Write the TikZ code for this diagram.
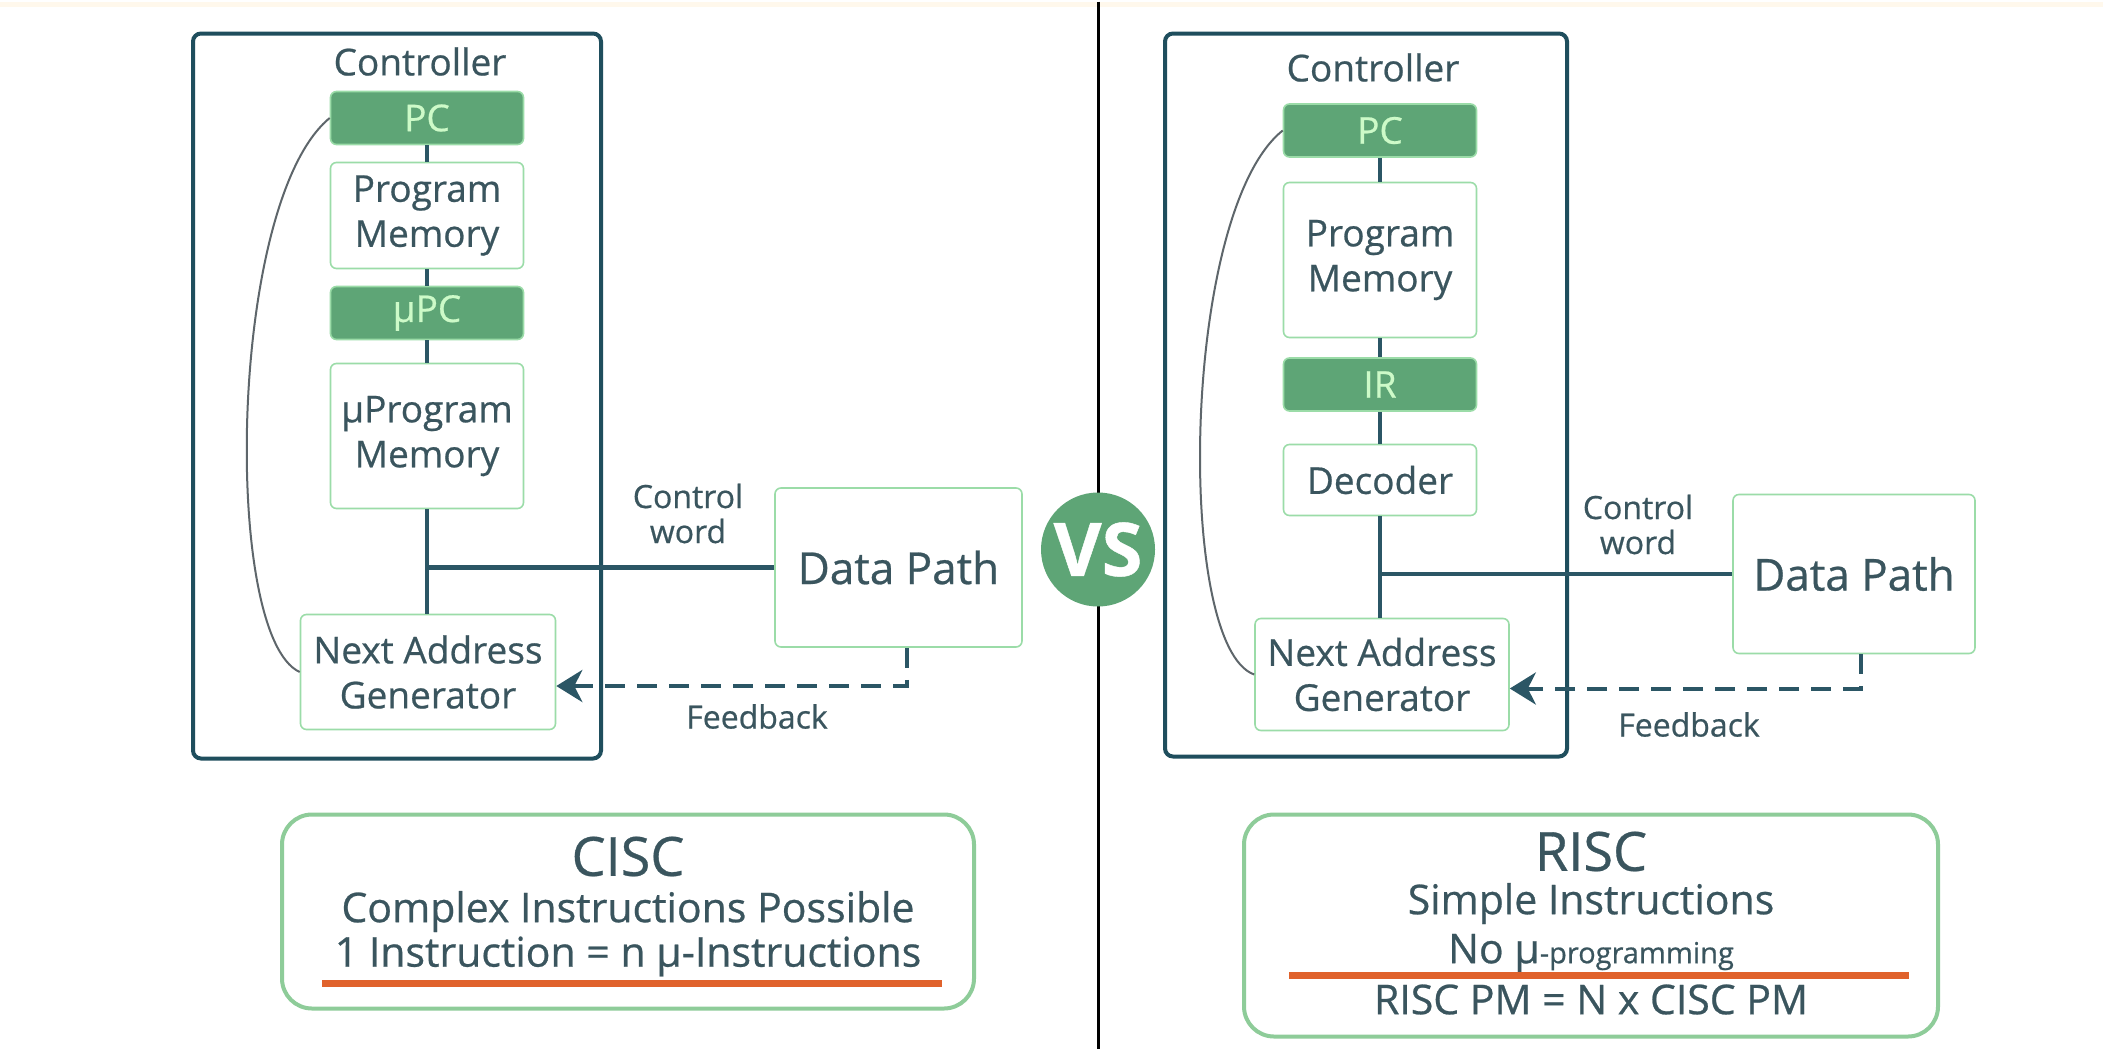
\documentclass[tikz,border=0pt]{standalone}
\usepackage{fontspec}
\setmainfont{Open Sans}[FakeBold=0.6]
\usetikzlibrary{arrows.meta}

\definecolor{ink}{HTML}{3A555E}
\definecolor{wirecol}{HTML}{2B5665}
\definecolor{framecol}{HTML}{1F4E5D}
\definecolor{regfill}{HTML}{5EA576}
\definecolor{regtext}{HTML}{CDFAC8}
\definecolor{lightedge}{HTML}{9BDCA8}
\definecolor{noteedge}{HTML}{8ECC99}
\definecolor{loopcol}{HTML}{5E666B}
\definecolor{hilite}{HTML}{E0622C}
\definecolor{cream}{HTML}{FFF8EC}

\newcommand{\fBlock}{\fontsize{18.5}{22.5}\selectfont}
\newcommand{\fData}{\fontsize{22}{26}\selectfont}
\newcommand{\fNote}{\fontsize{16}{17.5}\selectfont}
\newcommand{\fHead}{\fontsize{27}{30}\selectfont}
\newcommand{\fLine}{\fontsize{20.5}{24}\selectfont}
\newcommand{\fSmall}{\fontsize{14.5}{17}\selectfont}
\newcommand{\fVs}{\fontsize{37}{40}\selectfont\bfseries}

\begin{document}
\begin{tikzpicture}
	[x=0.5pt,y=-0.5pt,
	every node/.style={font=\fBlock,text=ink},
	reg/.style={rectangle,rounded corners=3pt,fill=regfill,draw=lightedge,line width=0.8pt,text=regtext,minimum width=96.5pt,minimum height=26.5pt},
	mem/.style={rectangle,rounded corners=3pt,fill=white,draw=lightedge,line width=0.8pt,align=center,minimum width=96.5pt},
	ctrl/.style={rectangle,rounded corners=4pt,draw=framecol,line width=2pt},
	note/.style={rectangle,rounded corners=15pt,fill=white,draw=noteedge,line width=2pt},
	wire/.style={draw=wirecol,line width=2.4pt},
	feedback/.style={draw=wirecol,line width=2pt,dash pattern=on 10pt off 6pt,-{Stealth[length=13pt,width=16pt,inset=4pt]}},
	backpath/.style={draw=loopcol,line width=1pt},
	underline/.style={draw=hilite,line width=3.5pt}]

	\fill[white] (0,0) rectangle (2103,1047);
	\fill[cream] (0,0) rectangle (2103,5);
	\draw[line width=1.5pt] (1098,0) -- (1098,1047);

	% CISC side
	\node[ctrl,minimum width=204pt,minimum height=362.5pt] (ctrlL) at (397,394.5) {};
	\node (tagL) at (420,60) {Controller};
	\node[reg] (pcL) at (427,116.5) {PC};
	\node[mem,minimum height=53pt] (pmL) at (427,214) {Program\\Memory};
	\node[reg] (upcL) at (427,311.5) {μPC};
	\node[mem,minimum height=72.5pt] (upmL) at (427,434.5) {μProgram\\Memory};
	\node[mem,minimum width=127.5pt,minimum height=57.5pt] (nagL) at (428,670.5) {Next Address\\Generator};
	\node[mem,minimum width=123.5pt,minimum height=79.5pt,font=\fData] (dpL) at (898.5,566) {Data Path};

	\foreach \from/\to in {pcL/pmL,pmL/upcL,upcL/upmL}
	\draw[wire] (\from) -- (\to);
	\draw[wire] (upmL.south) -- (upmL.south |- nagL.north);
	\draw[wire] (dpL.west) -- (dpL.west -| upmL.south);
	\draw[feedback] ([xshift=4pt]dpL.south) |- ([yshift=-7pt]nagL.east);
	\draw[backpath] (pcL.west) .. controls (228,200) and (222,635) .. (nagL.west);

	\node[font=\fNote,align=center] (cwL) at (688,512) {Control\\word};
	\node[font=\fNote] (fbL) at (757,715) {Feedback};

	% RISC side
	\node[ctrl,minimum width=201pt,minimum height=361.5pt] (ctrlR) at (1366,393.5) {};
	\node (tagR) at (1373,66) {Controller};
	\node[reg] (pcR) at (1380,129) {PC};
	\node[mem,minimum height=77.5pt] (pmR) at (1380,258.5) {Program\\Memory};
	\node[reg] (irR) at (1380,383) {IR};
	\node[mem,minimum height=35.5pt] (decR) at (1380,478.5) {Decoder};
	\node[mem,minimum width=127pt,minimum height=56pt] (nagR) at (1382,673) {Next Address\\Generator};
	\node[mem,minimum width=121pt,minimum height=79.5pt,font=\fData] (dpR) at (1854,572.5) {Data Path};

	\foreach \from/\to in {pcR/pmR,pmR/irR,irR/decR}
	\draw[wire] (\from) -- (\to);
	\draw[wire] (decR.south) -- (decR.south |- nagR.north);
	\draw[wire] (dpR.west) -- (dpR.west -| decR.south);
	\draw[feedback] ([xshift=3.5pt]dpR.south) |- ([yshift=-7pt]nagR.east);
	\draw[backpath] (pcR.west) .. controls (1181,210) and (1175,645) .. (nagR.west);

	\node[font=\fNote,align=center] (cwR) at (1638,523) {Control\\word};
	\node[font=\fNote] (fbR) at (1689,723) {Feedback};

	\node[circle,fill=regfill,minimum size=57pt,inner sep=0pt,text=white,font=\fVs] (vs) at (1098,548) {VS};

	% summary boxes
	\node[note,minimum width=346pt,minimum height=97pt] (ciscBox) at (628,910) {};
	\node[font=\fHead] (ciscT) at (628,855) {CISC};
	\node[font=\fLine] (ciscA) at (628,910) {Complex Instructions Possible};
	\node[font=\fLine] (ciscB) at (628,955) {1 Instruction = n μ-Instructions};
	\draw[underline] (322,982) -- (942,982);

	\node[note,minimum width=347pt,minimum height=111pt] (riscBox) at (1591,924) {};
	\node[font=\fHead] (riscT) at (1591,850) {RISC};
	\node[font=\fLine] (riscA) at (1591,902) {Simple Instructions};
	\node[font=\fLine] (riscB) at (1591,952) {No μ{\fSmall -programming}};
	\node[font=\fLine] (riscC) at (1591,998) {RISC PM = N x CISC PM};
	\draw[underline] (1289,974) -- (1909,974);

\end{tikzpicture}
\end{document}
